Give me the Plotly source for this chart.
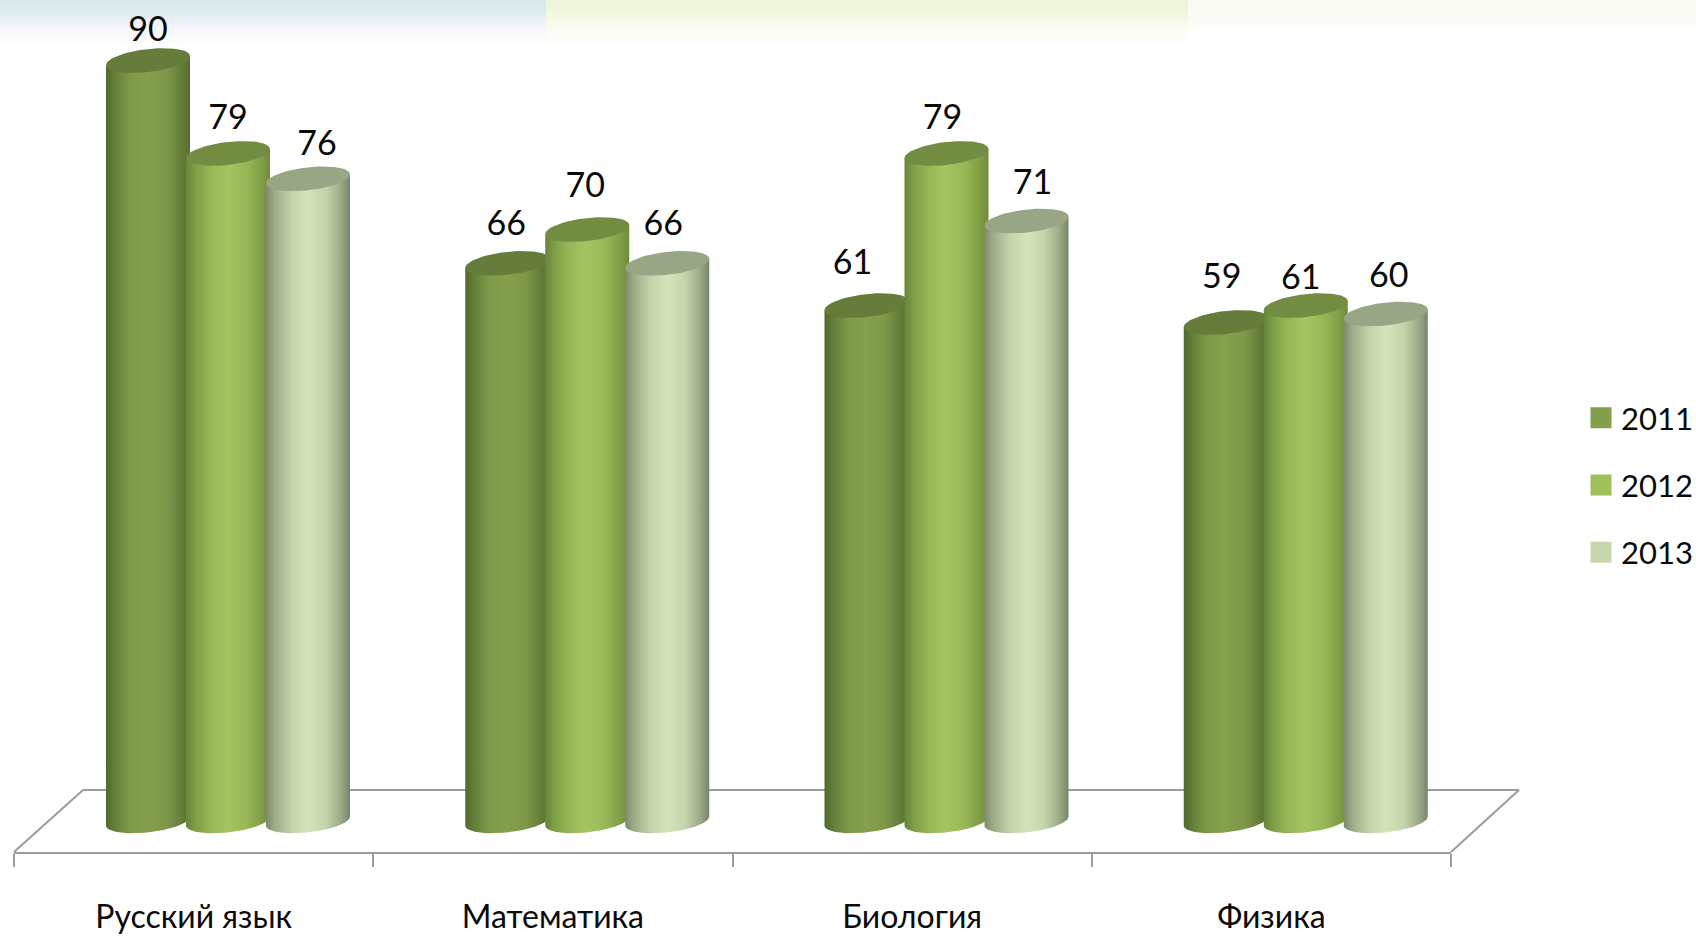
import numpy as np
import plotly.graph_objects as go

# ---- data ----
categories = ["Русский язык", "Математика", "Биология", "Физика"]
years = ["2011", "2012", "2013"]
v2011 = [90, 66, 61, 59]
v2012 = [79, 70, 79, 61]
v2013 = [76, 66, 71, 60]

# ---- layout geometry (pixels of the page) ----
W, H = 1696, 938
PL, PR, PB = 14, 1451, 852      # plot area left/right/bottom
BASE_PX = 821                   # pixel of value 0
PX_PER_UNIT = 8.45
PX_PER_CAT = (PR - PL) / 4
Y_MIN = -(PB - BASE_PX) / PX_PER_UNIT
Y_MAX = BASE_PX / PX_PER_UNIT
BAR_A = 42                      # half width of cylinder, px
TILT, MINOR = 4.5, 11.5         # ellipse shape, px
SERIES_OFFSET = [-0.127, 0.0957, 0.3184]  # from category centre, in category units
FONT = "Lato, Liberation Sans"
TEXT_SIZE = 34

series = [v2011, v2012, v2013]
styles = [
    dict(top="#667c3a", swatch="#84a04e",
         scale=[[0, "#4f6a2a"], [0.12, "#66823a"], [0.3, "#7f9b49"], [0.5, "#84a04c"],
                [0.72, "#7d9848"], [0.9, "#637d38"], [1, "#55702e"]]),
    dict(top="#728c42", swatch="#a0c05c",
         scale=[[0, "#67853a"], [0.12, "#80a048"], [0.3, "#98b858"], [0.5, "#a3c561"],
                [0.72, "#97b757"], [0.9, "#7f9d45"], [1, "#6f8d3a"]]),
    dict(top="#99a686", swatch="#c8d6ac",
         scale=[[0, "#7d8a6c"], [0.1, "#9dab88"], [0.3, "#c3d2a8"], [0.5, "#d4e3b8"],
                [0.72, "#c4d3aa"], [0.9, "#9aa785"], [1, "#78846a"]]),
]
# placement of each number relative to its cylinder's centre, px
label_lift = [[28, 37, 40, 43], [33, 41, 33, 25], [32.5, 37, 36, 36]]
label_shift = [[0, -1, -14, -4], [0, -2, -4, -5], [9, -4, 6, 3]]


def xfrac(px):
    return (px - PL) / (PR - PL)


def yfrac(py):
    return (PB - py) / PB


fig = go.Figure()

# banner at the very top of the page (faded slide background)
bands = [
    (0, 546, [(0, (215, 232, 236)), (14, (226, 237, 242)), (26, (244, 245, 252)), (44, (255, 255, 253))]),
    (546, 1188, [(0, (238, 245, 218)), (14, (242, 248, 226)), (28, (250, 252, 242)), (44, (255, 255, 253))]),
    (1188, 1696, [(0, (248, 251, 242)), (20, (250, 252, 246)), (30, (254, 254, 252))]),
]
shapes = []
for x0, x1, stops in bands:
    ys = [s[0] for s in stops]
    for y in range(0, ys[-1], 2):
        c = [int(np.interp(y, ys, [s[1][k] for s in stops])) for k in range(3)]
        shapes.append(dict(type="rect", xref="paper", yref="paper", layer="below",
                           x0=xfrac(x0), x1=xfrac(x1), y0=yfrac(y), y1=yfrac(y + 2),
                           fillcolor=f"rgb({c[0]},{c[1]},{c[2]})", line_width=0))

# floor of the 3-D chart
GREY = "#9c9c9c"
LINE_W = 2
floor = [((PL, PB), (83, 790)), ((83, 790), (1519, 790)), ((1519, 790), (PR, PB))]
for (a, b) in floor:
    shapes.append(dict(type="line", xref="paper", yref="paper", layer="below",
                       x0=xfrac(a[0]), y0=yfrac(a[1]), x1=xfrac(b[0]), y1=yfrac(b[1]),
                       line=dict(color=GREY, width=LINE_W)))

dx = BAR_A / PX_PER_CAT
t_bottom = np.linspace(0, -np.pi, 60)
t_full = np.linspace(0, 2 * np.pi, 90)

for c in range(len(categories)):
    for s, vals in enumerate(series):
        v = vals[c]
        cx = c + 0.5 + SERIES_OFFSET[s]
        st = styles[s]
        # body: straight sides, curved foot
        bx = dx * np.cos(t_bottom)
        by = (TILT * np.cos(t_bottom) + MINOR * np.sin(t_bottom)) / PX_PER_UNIT
        tilt_u = TILT / PX_PER_UNIT
        xs = np.concatenate([[cx - dx, cx + dx], cx + bx, [cx - dx]])
        ys = np.concatenate([[v - tilt_u, v + tilt_u], by, [v - tilt_u]])
        fig.add_trace(go.Scatter(
            x=xs, y=ys, mode="lines", line=dict(width=0), fill="toself",
            fillgradient=dict(type="horizontal", colorscale=st["scale"]),
            showlegend=False, hoverinfo="skip"))
        # lid
        fig.add_trace(go.Scatter(
            x=cx + dx * np.cos(t_full),
            y=v + (TILT * np.cos(t_full) + MINOR * np.sin(t_full)) / PX_PER_UNIT,
            mode="lines", line=dict(width=0), fill="toself", fillcolor=st["top"],
            showlegend=False, hoverinfo="skip"))

# value labels
for s, vals in enumerate(series):
    fig.add_trace(go.Scatter(
        x=[c + 0.5 + SERIES_OFFSET[s] + label_shift[s][c] / PX_PER_CAT for c in range(len(categories))],
        y=[v + label_lift[s][c] / PX_PER_UNIT for c, v in enumerate(vals)],
        mode="text", text=[str(v) for v in vals], textposition="middle center",
        textfont=dict(family=FONT, size=TEXT_SIZE, color="#0a0a0a"),
        cliponaxis=False, showlegend=False, hoverinfo="skip"))

# legend entries
for s, year in enumerate(years):
    fig.add_trace(go.Scatter(
        x=[None], y=[None], mode="markers", name=year, legendgroup=year,
        marker=dict(symbol="square", size=16, color=styles[s]["swatch"],
                    line=dict(color=styles[s]["swatch"], width=5))))

fig.update_layout(
    width=W, height=H, autosize=False,
    margin=dict(l=PL, r=W - PR, t=0, b=H - PB, autoexpand=False),
    paper_bgcolor="white", plot_bgcolor="rgba(0,0,0,0)",
    shapes=shapes,
    font=dict(family=FONT, size=TEXT_SIZE, color="#0a0a0a"),
    legend=dict(x=xfrac(1581), xanchor="left", y=yfrac(485), yanchor="middle",
                font=dict(size=31), tracegroupgap=24, bgcolor="rgba(0,0,0,0)",
                itemclick=False, itemdoubleclick=False),
    xaxis=dict(
        range=[0, len(categories)], showgrid=False, zeroline=False,
        showline=True, linecolor=GREY, linewidth=LINE_W,
        tickmode="array", tickvals=[i + 0.5 for i in range(len(categories))],
        ticktext=categories, ticks="outside", ticklen=36,
        tickcolor="rgba(0,0,0,0)", tickfont=dict(size=32),
        minor=dict(tickmode="array", tickvals=list(range(len(categories) + 1)),
                   ticks="outside", ticklen=13, tickcolor=GREY, tickwidth=LINE_W, showgrid=False),
    ),
    yaxis=dict(range=[Y_MIN, Y_MAX], visible=False),
)

fig.write_html("out.html", config={"displayModeBar": False},
               post_script="document.body.style.margin='0';")
